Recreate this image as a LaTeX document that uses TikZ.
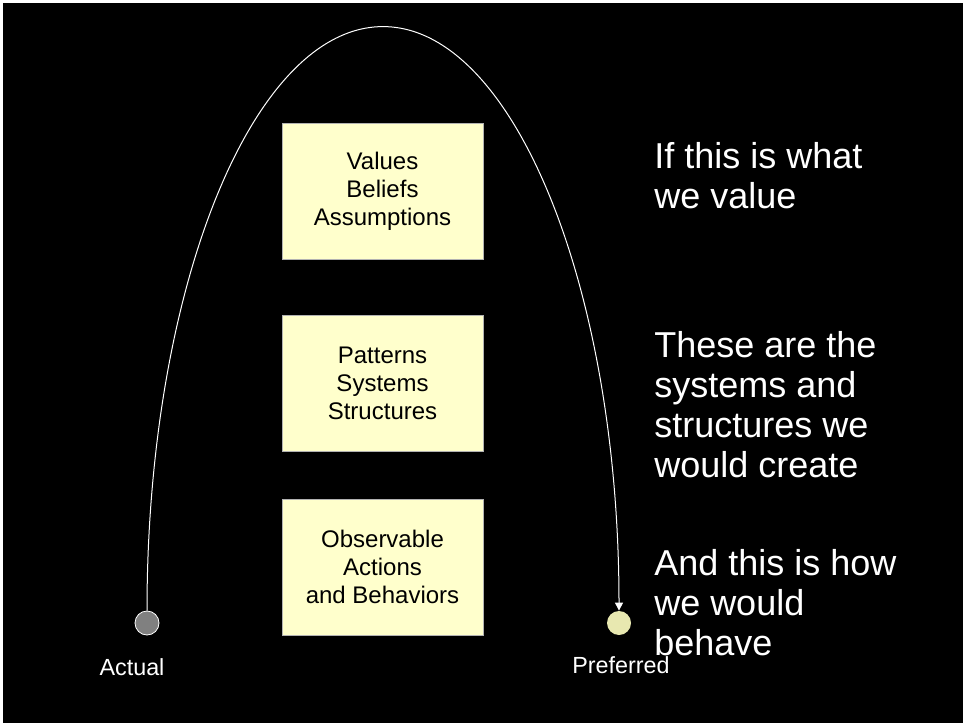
\documentclass[tikz,border=0pt]{standalone}
\usepackage{fontspec}
\setmainfont{Liberation Sans}
\usetikzlibrary{arrows.meta}
\definecolor{boxfill}{RGB}{255,255,204}
\definecolor{prefdot}{RGB}{232,232,176}
\definecolor{actdot}{RGB}{128,128,128}

\begin{document}
\begin{tikzpicture}[x=0.75pt,y=0.75pt]
	\tikzstyle{every node}+=[inner sep=0pt]
	\tikzstyle{layer}=[draw=gray!60, line width=0.5pt, fill=boxfill, minimum width=150.75pt, minimum height=102pt, align=center, font=\fontsize{18}{21}\selectfont]
	\tikzstyle{saying}=[text=white, align=left, anchor=north west, font=\fontsize{27}{30}\selectfont]
	\tikzstyle{dot}=[circle, minimum size=18pt]
	\tikzstyle{tag}=[text=white, anchor=base, font=\fontsize{17.5}{21}\selectfont]
	\useasboundingbox (0,0) rectangle (963,-723);
	\fill [white] (0,0) rectangle (963,-723);
	\fill [black] (3,-3) rectangle (963,-723);
	\node [layer] (values) at (382.5,-191) {Values\\Beliefs\\Assumptions};
	\node [layer] (patterns) at (382.5,-383) {Patterns\\Systems\\Structures};
	\node [layer] (actions) at (382.5,-567) {Observable\\Actions\\and Behaviors};
	\node [saying] (valuetext) at (654,-142) {If this is what\\we value};
	\node [saying] (systemtext) at (654,-331) {These are the\\systems and\\structures we\\would create};
	\node [saying] (behavetext) at (654,-549) {And this is how\\we would\\behave};
	\node [dot, draw=white, line width=0.6pt, fill=actdot] (actual) at (147,-623) {};
	\node [dot, fill=prefdot] (preferred) at (619,-623) {};
	\node [tag] (actuallabel) at (132,-675) {Actual};
	\node [tag] (preferredlabel) at (621,-673) {Preferred};
	\draw [white, line width=0.75pt, -{Triangle[width=6pt,length=6pt]}] (actual.north) arc [start angle=180, end angle=0, x radius=177pt, y radius=438pt];
\end{tikzpicture}
\end{document}
